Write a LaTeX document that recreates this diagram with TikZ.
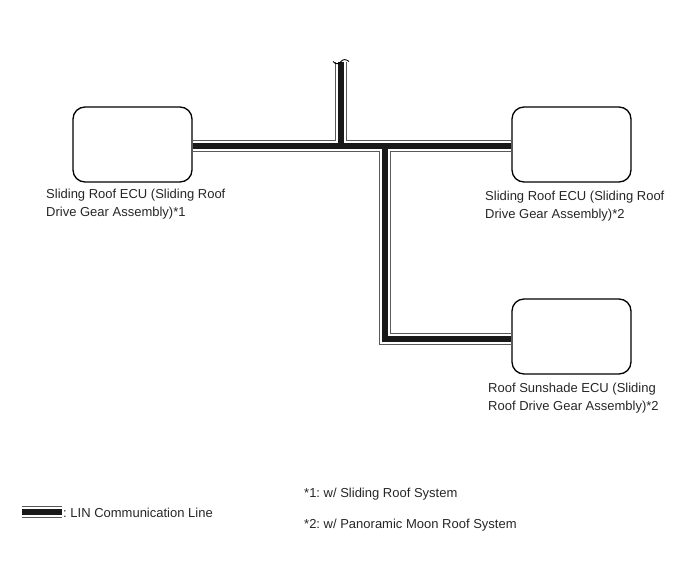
\documentclass[tikz,border=0pt]{standalone}
\usepackage{fontspec}
\setmainfont{Liberation Sans}
\frenchspacing
\begin{document}
\begin{tikzpicture}[x=1pt,y=-1pt,
  ecu/.style={draw=black,line width=1.3pt,rounded corners=12pt,minimum width=119pt,minimum height=75pt,inner sep=0pt},
  wireout/.style={line width=11.5pt,draw=black!65,line join=miter,line cap=butt},
  wiregap/.style={line width=9.3pt,draw=white,line join=miter,line cap=butt},
  wirecore/.style={line width=5.4pt,draw=black!90,line join=miter,line cap=butt},
  lbl/.style={anchor=base west,inner sep=0pt,font=\fontsize{13}{15.6}\selectfont,text=black!85}]
\useasboundingbox (0,0) rectangle (688,560);
% ECU boxes
\node[ecu] (b1) at (132.5,144.5) {};
\node[ecu] (b2) at (571.5,144.5) {};
\node[ecu] (b3) at (571.5,336.5) {};
% wiring coordinates
\coordinate (top) at (341,62);
\coordinate (j1) at (341,146);
\coordinate (j2) at (385,146);
\coordinate (c3) at (385,339);
\coordinate (l1) at (22,512);
\coordinate (l2) at (62,512);
% LIN bus wiring in three layers
\foreach \s in {wireout,wiregap,wirecore}{
  \draw[\s] (top) -- (j1);
  \draw[\s] (b1.east|-j1) -- (b2.west|-j1);
  \draw[\s] (j2) -- (c3) -- (b3.west|-c3);
  \draw[\s] (l1) -- (l2);
}
% cut end mark
\coordinate (w1) at (333,61.5);
\coordinate (w2) at (349,61.5);
\draw[line width=0.9pt] (w1) .. controls (336,65) and (339,64) .. (341,61.5) .. controls (343,59) and (346,59) .. (w2);
% box labels
\node[lbl] (t1a) at (46,198) {Sliding Roof ECU (Sliding Roof};
\node[lbl] (t1b) at (46,216) {Drive Gear Assembly)*1};
\node[lbl] (t2a) at (485,200) {Sliding Roof ECU (Sliding Roof};
\node[lbl] (t2b) at (485,218) {Drive Gear Assembly)*2};
\node[lbl] (t3a) at (488,392) {Roof Sunshade ECU (Sliding};
\node[lbl] (t3b) at (488,410) {Roof Drive Gear Assembly)*2};
% notes and legend
\node[lbl] (n1) at (304,497) {*1: w/ Sliding Roof System};
\node[lbl] (n2) at (304,528) {*2: w/ Panoramic Moon Roof System};
\node[lbl] (leg) at (63,517) {: LIN Communication Line};
\end{tikzpicture}
\end{document}
